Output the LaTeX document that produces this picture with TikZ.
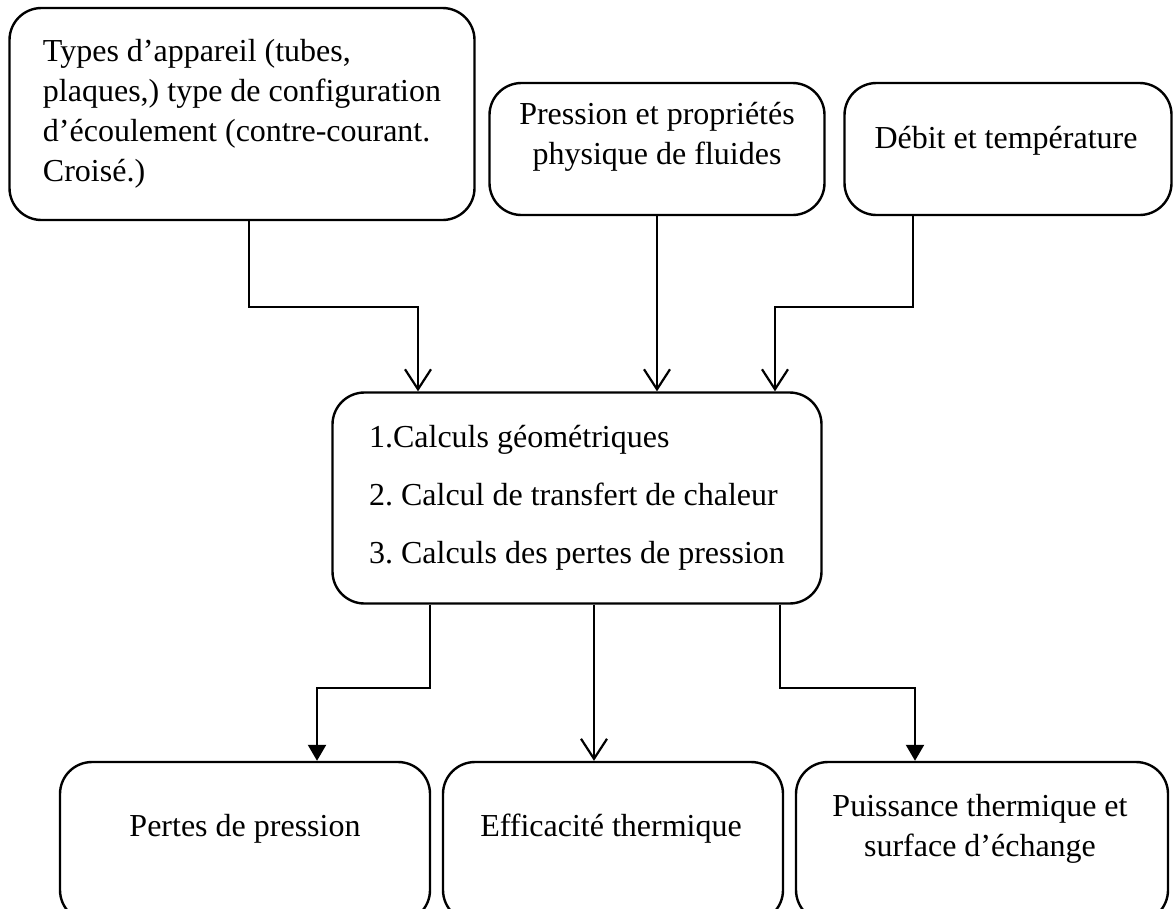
\documentclass[tikz,border=0pt]{standalone}
\usepackage{fontspec}
\setmainfont{Liberation Serif}
\usetikzlibrary{arrows.meta}
\frenchspacing
\begin{document}
\begin{tikzpicture}[x=1pt,y=-1pt,
  box/.style={draw, line width=2.4pt, rounded corners=32pt, inner sep=0pt,
    font=\fontsize{32}{40}\selectfont},
  txt/.style={font=\fontsize{32}{40}\selectfont, inner sep=0pt, align=center},
  conn/.style={line width=2.2pt},
  openarr/.style={conn, -{Straight Barb[length=20pt,width=26pt,line width=2.2pt]}},
  fillarr/.style={conn, -{Triangle[length=16pt,width=18pt]}}]
\useasboundingbox (0,0) rectangle (1174,908);
\clip (0,0) rectangle (1174,908);
\fill[white] (0,0) rectangle (1174,908);
% top boxes
\node[box, minimum width=465pt, minimum height=212pt, align=left] (A) at (242,114)
  {Types d’appareil (tubes,\\plaques,) type de configuration\\d’écoulement (contre-courant.\\Croisé.)};
\node[box, minimum width=335pt, minimum height=132pt] (B) at (657,149) {};
\node[txt] (Bt) at (657,137) {Pression et propriétés\\physique de fluides};
\node[box, minimum width=327pt, minimum height=132pt] (C) at (1008,149) {};
\node[txt] (Ct) at (1006,141) {Débit et température};
% center box
\node[box, minimum width=489pt, minimum height=211pt, align=left,
  font=\fontsize{32}{58}\selectfont] (D) at (577,498)
  {1.Calculs géométriques\\2. Calcul de transfert de chaleur\\3. Calculs des pertes de pression};
% bottom boxes
\node[box, minimum width=370pt, minimum height=160pt] (E) at (245,842) {};
\node[box, minimum width=340pt, minimum height=160pt] (F) at (613,842) {};
\node[box, minimum width=372pt, minimum height=160pt] (G) at (982,842) {};
\node[txt] (Et) at (245,829) {Pertes de pression};
\node[txt] (Ft) at (611,829) {Efficacité thermique};
\node[txt] (Gt) at (980,829) {Puissance thermique et\\surface d’échange};
% connectors top
\coordinate (a1) at (249,307);
\coordinate (a2) at (418,307);
\draw[openarr] (A.south -| a1) -- (a1) -- (a2) -- (a2 |- D.north);
\draw[openarr] (B.south) -- (B.south |- D.north);
\coordinate (c1) at (913,307);
\coordinate (c2) at (775,307);
\draw[openarr] (C.south -| c1) -- (c1) -- (c2) -- (c2 |- D.north);
% connectors bottom
\coordinate (d1) at (430,688);
\coordinate (d2) at (317,688);
\draw[fillarr] (D.south -| d1) -- (d1) -- (d2) -- (d2 |- E.north);
\coordinate (m1) at (594,688);
\draw[openarr] (D.south -| m1) -- (m1 |- F.north);
\coordinate (e1) at (780,688);
\coordinate (e2) at (915,688);
\draw[fillarr] (D.south -| e1) -- (e1) -- (e2) -- (e2 |- G.north);
\end{tikzpicture}
\end{document}
